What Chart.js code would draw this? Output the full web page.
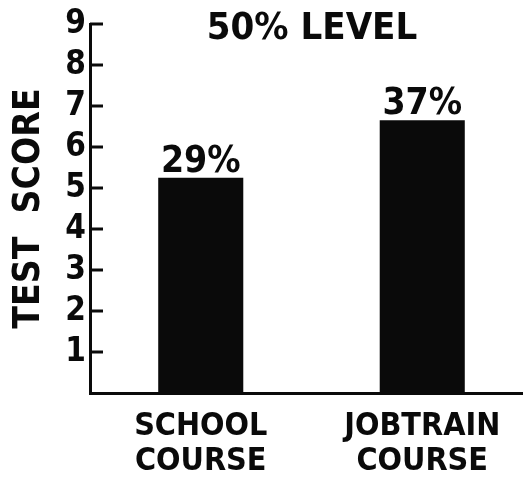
<!DOCTYPE html>
<html>
<head>
<meta charset="utf-8">
<script src="https://cdn.jsdelivr.net/npm/chart.js@4"></script>
<style>
html,body{margin:0;padding:0;background:#fff;overflow:hidden;}
#wrap{width:523px;height:493px;position:relative;overflow:hidden;}
</style>
</head>
<body>
<div id="wrap"><canvas id="c" width="533" height="493"></canvas></div>
<script>
const categories = [['SCHOOL', 'COURSE'], ['JOBTRAIN', 'COURSE']];
const scores = [5.25, 6.65];
const percentLabels = ['29%', '37%'];
const yTickValues = [1, 2, 3, 4, 5, 6, 7, 8, 9];
const levelLabel = '50% LEVEL';
const levelValue = 9;
const yTitle = 'TEST  SCORE';

const FONT = '"DejaVu Sans Condensed", "DejaVu Sans", sans-serif';
const INK = '#0a0a0a';

const decorations = {
  id: 'decorations',
  afterDatasetsDraw(chart) {
    const ctx = chart.ctx;
    const y = chart.scales.y;
    const area = chart.chartArea;
    ctx.save();
    // inward tick marks
    ctx.strokeStyle = INK;
    ctx.lineWidth = 3;
    yTickValues.forEach(v => {
      const py = y.getPixelForValue(v);
      ctx.beginPath();
      ctx.moveTo(area.left, py);
      ctx.lineTo(area.left + 13, py);
      ctx.stroke();
    });
    // bar value labels
    ctx.fillStyle = INK;
    ctx.font = 'bold 37px ' + FONT;
    ctx.textAlign = 'center';
    ctx.textBaseline = 'alphabetic';
    const meta = chart.getDatasetMeta(0);
    meta.data.forEach((bar, i) => {
      ctx.fillText(percentLabels[i], bar.x, bar.y - 6);
    });
    // level label
    ctx.font = 'bold 38px ' + FONT;
    ctx.textBaseline = 'middle';
    ctx.fillText(levelLabel, 312, y.getPixelForValue(levelValue) + 5);
    ctx.restore();
  }
};

new Chart(document.getElementById('c'), {
  type: 'bar',
  data: {
    labels: categories,
    datasets: [{
      data: scores,
      backgroundColor: INK,
      borderWidth: 0,
      barPercentage: 0.384,
      categoryPercentage: 1.0
    }]
  },
  options: {
    responsive: false,
    animation: false,
    layout: { padding: { top: 24, right: 0, left: 0, bottom: 0 } },
    plugins: {
      legend: { display: false },
      tooltip: { enabled: false },
      title: { display: false }
    },
    scales: {
      x: {
        offset: true,
        grid: { display: false, drawTicks: false },
        border: { display: true, color: INK, width: 3 },
        ticks: {
          color: INK,
          padding: 16,
          font: { family: FONT, weight: 'bold', size: 32, lineHeight: 1.1 }
        },
        afterFit(s) { s.height = 100; }
      },
      y: {
        min: 0,
        max: 9,
        grid: { display: false, drawTicks: false },
        border: { display: true, color: INK, width: 3 },
        ticks: {
          stepSize: 1,
          autoSkip: false,
          color: INK,
          padding: 4,
          font: { family: FONT, weight: 'bold', size: 33 },
          callback: v => (yTickValues.includes(v) ? String(v) : '')
        },
        title: {
          display: true,
          text: yTitle,
          color: INK,
          padding: { top: 7, bottom: 8 },
          font: { family: FONT, weight: 'bold', size: 37 }
        },
        afterFit(s) { s.width = 90; }
      }
    }
  },
  plugins: [decorations]
});
</script>
</body>
</html>
